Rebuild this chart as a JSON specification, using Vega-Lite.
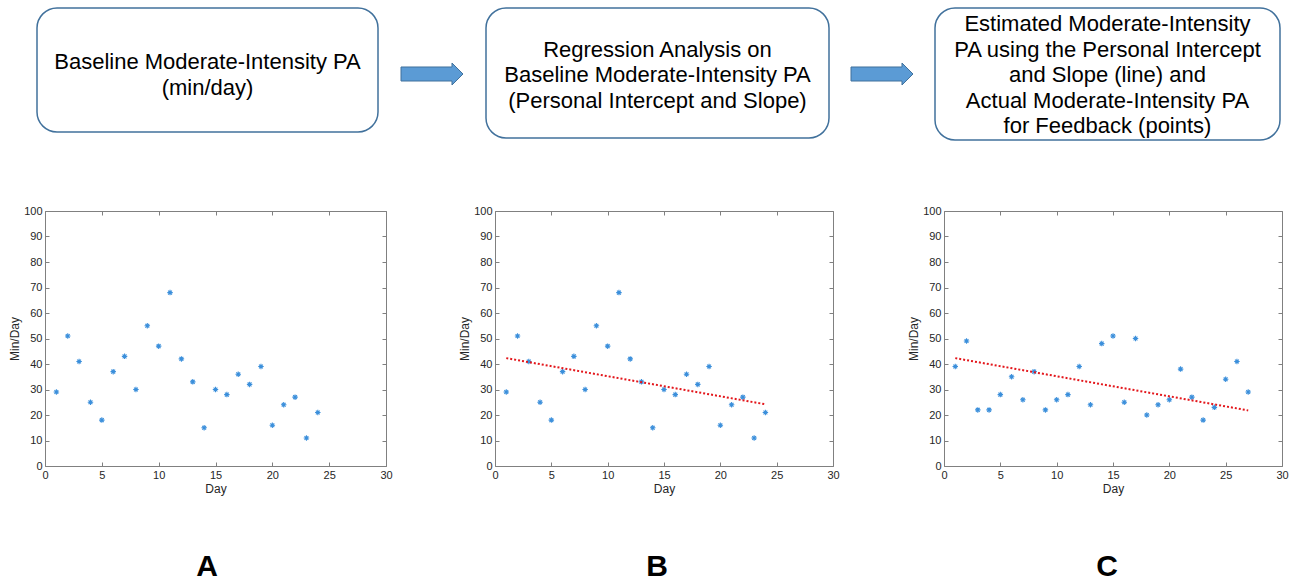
{
  "$schema": "https://vega.github.io/schema/vega-lite/v6.json",
  "background": "white",
  "padding": {"left": 5, "top": 7, "right": 5, "bottom": 0},
  "datasets": {
    "ptsA": [
      {"day": 1, "min": 29}, {"day": 2, "min": 51}, {"day": 3, "min": 41}, {"day": 4, "min": 25},
      {"day": 5, "min": 18}, {"day": 6, "min": 37}, {"day": 7, "min": 43}, {"day": 8, "min": 30},
      {"day": 9, "min": 55}, {"day": 10, "min": 47}, {"day": 11, "min": 68}, {"day": 12, "min": 42},
      {"day": 13, "min": 33}, {"day": 14, "min": 15}, {"day": 15, "min": 30}, {"day": 16, "min": 28},
      {"day": 17, "min": 36}, {"day": 18, "min": 32}, {"day": 19, "min": 39}, {"day": 20, "min": 16},
      {"day": 21, "min": 24}, {"day": 22, "min": 27}, {"day": 23, "min": 11}, {"day": 24, "min": 21}
    ],
    "ptsC": [
      {"day": 1, "min": 39}, {"day": 2, "min": 49}, {"day": 3, "min": 22}, {"day": 4, "min": 22},
      {"day": 5, "min": 28}, {"day": 6, "min": 35}, {"day": 7, "min": 26}, {"day": 8, "min": 37},
      {"day": 9, "min": 22}, {"day": 10, "min": 26}, {"day": 11, "min": 28}, {"day": 12, "min": 39},
      {"day": 13, "min": 24}, {"day": 14, "min": 48}, {"day": 15, "min": 51}, {"day": 16, "min": 25},
      {"day": 17, "min": 50}, {"day": 18, "min": 20}, {"day": 19, "min": 24}, {"day": 20, "min": 26},
      {"day": 21, "min": 38}, {"day": 22, "min": 27}, {"day": 23, "min": 18}, {"day": 24, "min": 23},
      {"day": 25, "min": 34}, {"day": 26, "min": 41}, {"day": 27, "min": 29}
    ],
    "lineB": [{"day": 1, "min": 42.3}, {"day": 24, "min": 24.2}],
    "lineC": [{"day": 1, "min": 42.3}, {"day": 27, "min": 21.8}]
  },
  "spacing": 64,
  "vconcat": [
    {
      "spacing": 0,
      "bounds": "flush",
      "hconcat": [
        {"width": 32, "height": 40, "data": {"values": [{"k": 0}]}, "mark": {"type": "text", "text": ""}},
        {
          "width": 341, "height": 124,
          "view": {"stroke": "#41719C", "strokeWidth": 1.5, "cornerRadius": 20, "fill": "white"},
          "data": {"values": [{"t": "Baseline Moderate-Intensity PA\n(min/day)"}]},
          "mark": {"type": "text", "lineBreak": "\n", "font": "Liberation Sans", "fontSize": 22, "lineHeight": 26, "color": "#000000", "dy": -8},
          "encoding": {"text": {"field": "t"}}
        },
        {
          "width": 108, "height": 132,
          "data": {"values": [{"k": "arrow"}]},
          "mark": {"type": "point", "shape": "M-1,-0.226L0.645,-0.226L0.645,-0.355L1,0L0.645,0.355L0.645,0.226L-1,0.226Z", "size": 3844, "filled": true, "fill": "#5B9BD5", "stroke": "#41719C", "strokeWidth": 1, "opacity": 1}
        },
        {
          "width": 343, "height": 130,
          "view": {"stroke": "#41719C", "strokeWidth": 1.5, "cornerRadius": 20, "fill": "white"},
          "data": {"values": [{"t": "Regression Analysis on\nBaseline Moderate-Intensity PA\n(Personal Intercept and Slope)"}]},
          "mark": {"type": "text", "lineBreak": "\n", "font": "Liberation Sans", "fontSize": 22, "lineHeight": 25.5, "color": "#000000", "dy": -23.5},
          "encoding": {"text": {"field": "t"}}
        },
        {
          "width": 106, "height": 132,
          "data": {"values": [{"k": "arrow"}]},
          "mark": {"type": "point", "shape": "M-1,-0.226L0.645,-0.226L0.645,-0.355L1,0L0.645,0.355L0.645,0.226L-1,0.226Z", "size": 3844, "filled": true, "fill": "#5B9BD5", "stroke": "#41719C", "strokeWidth": 1, "opacity": 1}
        },
        {
          "width": 345, "height": 132,
          "view": {"stroke": "#41719C", "strokeWidth": 1.5, "cornerRadius": 20, "fill": "white"},
          "data": {"values": [{"t": "Estimated Moderate-Intensity\nPA using the Personal Intercept\nand Slope (line) and\nActual Moderate-Intensity PA\nfor Feedback (points)"}]},
          "mark": {"type": "text", "lineBreak": "\n", "font": "Liberation Sans", "fontSize": 22, "lineHeight": 25.5, "color": "#000000", "dy": -50},
          "encoding": {"text": {"field": "t"}}
        }
      ]
    },
    {
      "spacing": 58,
      "vconcat": [
        {
          "spacing": 0,
          "bounds": "flush",
          "hconcat": [
            {"width": 40, "height": 100, "data": {"values": [{"k": 0}]}, "mark": {"type": "text", "text": ""}},
            {
              "width": 341, "height": 255,
              "resolve": {"axis": {"x": "independent", "y": "independent"}},
              "layer": [
                {
                  "data": {"name": "ptsA"},
                  "mark": {"type": "point", "shape": "M-1,0L1,0M0,-1L0,1M-0.7,-0.7L0.7,0.7M-0.7,0.7L0.7,-0.7", "size": 30, "filled": false, "stroke": "#3B8FDB", "strokeWidth": 1.1, "opacity": 1},
                  "encoding": {
                    "x": {"field": "day", "type": "quantitative", "scale": {"domain": [0, 30], "nice": false}, "axis": {"orient": "bottom", "values": [0, 5, 10, 15, 20, 25, 30], "title": "Day", "titlePadding": 3}},
                    "y": {"field": "min", "type": "quantitative", "scale": {"domain": [0, 100], "nice": false}, "axis": {"orient": "left", "values": [0, 10, 20, 30, 40, 50, 60, 70, 80, 90, 100], "title": "Min/Day", "titlePadding": 2}}
                  }
                },
                {
                  "data": {"name": "ptsA"},
                  "mark": {"type": "point", "opacity": 0},
                  "encoding": {
                    "x": {"field": "day", "type": "quantitative", "scale": {"domain": [0, 30], "nice": false}, "axis": {"orient": "top", "values": [0, 5, 10, 15, 20, 25, 30], "labels": false, "title": null}},
                    "y": {"field": "min", "type": "quantitative", "scale": {"domain": [0, 100], "nice": false}, "axis": {"orient": "right", "values": [0, 10, 20, 30, 40, 50, 60, 70, 80, 90, 100], "labels": false, "title": null}}
                  }
                }
              ]
            },
            {"width": 109, "height": 100, "data": {"values": [{"k": 0}]}, "mark": {"type": "text", "text": ""}},
            {
              "width": 338, "height": 255,
              "resolve": {"axis": {"x": "independent", "y": "independent"}},
              "layer": [
                {
                  "data": {"name": "ptsA"},
                  "mark": {"type": "point", "shape": "M-1,0L1,0M0,-1L0,1M-0.7,-0.7L0.7,0.7M-0.7,0.7L0.7,-0.7", "size": 30, "filled": false, "stroke": "#3B8FDB", "strokeWidth": 1.1, "opacity": 1},
                  "encoding": {
                    "x": {"field": "day", "type": "quantitative", "scale": {"domain": [0, 30], "nice": false}, "axis": {"orient": "bottom", "values": [0, 5, 10, 15, 20, 25, 30], "title": "Day", "titlePadding": 3}},
                    "y": {"field": "min", "type": "quantitative", "scale": {"domain": [0, 100], "nice": false}, "axis": {"orient": "left", "values": [0, 10, 20, 30, 40, 50, 60, 70, 80, 90, 100], "title": "Min/Day", "titlePadding": 2}}
                  }
                },
                {
                  "data": {"name": "lineB"},
                  "mark": {"type": "line", "color": "#E3161B", "strokeWidth": 2, "strokeDash": [2, 2]},
                  "encoding": {
                    "x": {"field": "day", "type": "quantitative", "scale": {"domain": [0, 30], "nice": false}, "axis": null},
                    "y": {"field": "min", "type": "quantitative", "scale": {"domain": [0, 100], "nice": false}, "axis": null}
                  }
                },
                {
                  "data": {"name": "ptsA"},
                  "mark": {"type": "point", "opacity": 0},
                  "encoding": {
                    "x": {"field": "day", "type": "quantitative", "scale": {"domain": [0, 30], "nice": false}, "axis": {"orient": "top", "values": [0, 5, 10, 15, 20, 25, 30], "labels": false, "title": null}},
                    "y": {"field": "min", "type": "quantitative", "scale": {"domain": [0, 100], "nice": false}, "axis": {"orient": "right", "values": [0, 10, 20, 30, 40, 50, 60, 70, 80, 90, 100], "labels": false, "title": null}}
                  }
                }
              ]
            },
            {"width": 111, "height": 100, "data": {"values": [{"k": 0}]}, "mark": {"type": "text", "text": ""}},
            {
              "width": 338, "height": 255,
              "resolve": {"axis": {"x": "independent", "y": "independent"}},
              "layer": [
                {
                  "data": {"name": "ptsC"},
                  "mark": {"type": "point", "shape": "M-1,0L1,0M0,-1L0,1M-0.7,-0.7L0.7,0.7M-0.7,0.7L0.7,-0.7", "size": 30, "filled": false, "stroke": "#3B8FDB", "strokeWidth": 1.1, "opacity": 1},
                  "encoding": {
                    "x": {"field": "day", "type": "quantitative", "scale": {"domain": [0, 30], "nice": false}, "axis": {"orient": "bottom", "values": [0, 5, 10, 15, 20, 25, 30], "title": "Day", "titlePadding": 3}},
                    "y": {"field": "min", "type": "quantitative", "scale": {"domain": [0, 100], "nice": false}, "axis": {"orient": "left", "values": [0, 10, 20, 30, 40, 50, 60, 70, 80, 90, 100], "title": "Min/Day", "titlePadding": 2}}
                  }
                },
                {
                  "data": {"name": "lineC"},
                  "mark": {"type": "line", "color": "#E3161B", "strokeWidth": 2, "strokeDash": [2, 2]},
                  "encoding": {
                    "x": {"field": "day", "type": "quantitative", "scale": {"domain": [0, 30], "nice": false}, "axis": null},
                    "y": {"field": "min", "type": "quantitative", "scale": {"domain": [0, 100], "nice": false}, "axis": null}
                  }
                },
                {
                  "data": {"name": "ptsC"},
                  "mark": {"type": "point", "opacity": 0},
                  "encoding": {
                    "x": {"field": "day", "type": "quantitative", "scale": {"domain": [0, 30], "nice": false}, "axis": {"orient": "top", "values": [0, 5, 10, 15, 20, 25, 30], "labels": false, "title": null}},
                    "y": {"field": "min", "type": "quantitative", "scale": {"domain": [0, 100], "nice": false}, "axis": {"orient": "right", "values": [0, 10, 20, 30, 40, 50, 60, 70, 80, 90, 100], "labels": false, "title": null}}
                  }
                }
              ]
            }
          ]
        },
        {
          "spacing": 0,
          "bounds": "flush",
          "hconcat": [
            {"width": 32, "height": 28, "data": {"values": [{"k": 0}]}, "mark": {"type": "text", "text": ""}},
            {"width": 340, "height": 28, "data": {"values": [{"lab": "A"}]}, "mark": {"type": "text", "font": "Liberation Sans", "fontSize": 30, "fontWeight": "bold", "color": "#000000"}, "encoding": {"text": {"field": "lab"}}},
            {"width": 110, "height": 28, "data": {"values": [{"k": 0}]}, "mark": {"type": "text", "text": ""}},
            {"width": 340, "height": 28, "data": {"values": [{"lab": "B"}]}, "mark": {"type": "text", "font": "Liberation Sans", "fontSize": 30, "fontWeight": "bold", "color": "#000000"}, "encoding": {"text": {"field": "lab"}}},
            {"width": 110, "height": 28, "data": {"values": [{"k": 0}]}, "mark": {"type": "text", "text": ""}},
            {"width": 340, "height": 28, "data": {"values": [{"lab": "C"}]}, "mark": {"type": "text", "font": "Liberation Sans", "fontSize": 30, "fontWeight": "bold", "color": "#000000"}, "encoding": {"text": {"field": "lab"}}}
          ]
        }
      ]
    }
  ],
  "config": {
    "view": {"stroke": null},
    "font": "Liberation Sans",
    "axis": {
      "grid": false,
      "domainColor": "#808080",
      "domainWidth": 1,
      "tickColor": "#808080",
      "tickSize": -4,
      "labelPadding": 7,
      "labelFont": "Liberation Sans",
      "labelFontSize": 11,
      "labelColor": "#262626",
      "labelFlush": false,
      "labelOverlap": false,
      "titleFont": "Liberation Sans",
      "titleFontSize": 12,
      "titleFontWeight": "normal",
      "titleColor": "#262626"
    }
  }
}
